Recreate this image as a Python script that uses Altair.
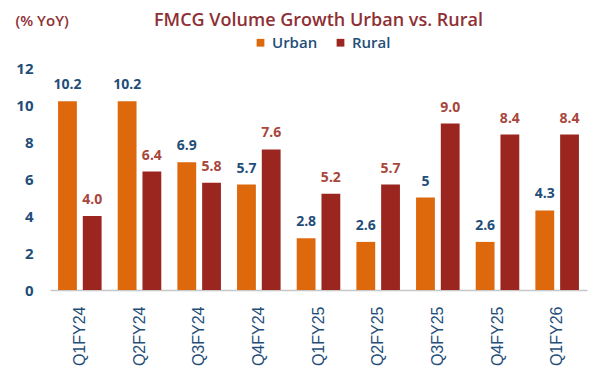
import altair as alt
import pandas as pd

quarters = ["Q1FY24", "Q2FY24", "Q3FY24", "Q4FY24", "Q1FY25", "Q2FY25", "Q3FY25", "Q4FY25", "Q1FY26"]
urban = [10.2, 10.2, 6.9, 5.7, 2.8, 2.6, 5.0, 2.6, 4.3]
rural = [4.0, 6.4, 5.8, 7.6, 5.2, 5.7, 9.0, 8.4, 8.4]
urban_labels = ["10.2", "10.2", "6.9", "5.7", "2.8", "2.6", "5", "2.6", "4.3"]
rural_labels = ["4.0", "6.4", "5.8", "7.6", "5.2", "5.7", "9.0", "8.4", "8.4"]
series = ["Urban", "Rural"]
y_ticks = [0, 2, 4, 6, 8, 10, 12]

rows = []
for q, u, r, ul, rl in zip(quarters, urban, rural, urban_labels, rural_labels):
    rows.append({"quarter": q, "series": "Urban", "value": u, "label": ul})
    rows.append({"quarter": q, "series": "Rural", "value": r, "label": rl})
df = pd.DataFrame(rows)

BLUE = "#1F4E79"
x_enc = alt.X("quarter:N", sort=quarters, title=None,
              scale=alt.Scale(paddingInner=0.27, paddingOuter=0.135),
              axis=alt.Axis(labelAngle=-90, labelAlign="right", labelBaseline="middle",
                            labelFont="Liberation Sans", labelFontSize=16, labelColor=BLUE,
                            labelFontWeight=500,
                            labelPadding=16, ticks=False, domainColor="#C8C8C8",
                            domainWidth=1.5, grid=False))
xo_enc = alt.XOffset("series:N", sort=series,
                     scale=alt.Scale(paddingInner=0.24, paddingOuter=0))
y_enc = alt.Y("value:Q", scale=alt.Scale(domain=[0, 12], nice=False),
              axis=alt.Axis(values=y_ticks, grid=False, domain=False, ticks=False,
                            labelFont="Open Sans", labelFontSize=15, labelFontWeight="bold",
                            labelColor=BLUE, labelPadding=17,
                            title="(% YoY)", titleAngle=0, titleAlign="left",
                            titleBaseline="top", titleX=-35, titleY=-55,
                            titleFont="Open Sans", titleFontSize=15, titleFontWeight=600,
                            titleColor="#8E3034"))

bars = alt.Chart(df).mark_bar().encode(
    x=x_enc, xOffset=xo_enc, y=y_enc,
    color=alt.Color("series:N", sort=series,
                    scale=alt.Scale(domain=series, range=["#DE680C", "#9B2620"]),
                    legend=alt.Legend(orient="none", legendX=203, legendY=-33,
                                      direction="horizontal", title=None,
                                      symbolType="square", symbolSize=60,
                                      symbolStrokeWidth=0, labelFont="Open Sans",
                                      labelFontSize=15, labelFontWeight=600,
                                      labelColor=BLUE, columnPadding=15, labelOffset=4)),
)

labels = alt.Chart(df).mark_text(baseline="alphabetic", dy=-12, font="Open Sans",
                                 fontSize=14, fontWeight="bold").encode(
    x=x_enc, xOffset=xo_enc, y=y_enc,
    text="label:N",
    color=alt.condition(alt.datum.series == "Urban", alt.value(BLUE), alt.value("#A8463C")),
)

chart = (bars + labels).properties(
    width=537, height=222,
    autosize=alt.AutoSizeParams(type="none"),
    padding={"left": 42, "top": 60, "right": 5, "bottom": 80},
    title=alt.Title("FMCG Volume Growth Urban vs. Rural", fontSize=18, font="Open Sans",
                    fontWeight=600, color="#8E3034", anchor="middle", offset=-17),
).configure_view(stroke=None)

chart.save("out.html", embed_options={"renderer": "svg", "actions": False})
